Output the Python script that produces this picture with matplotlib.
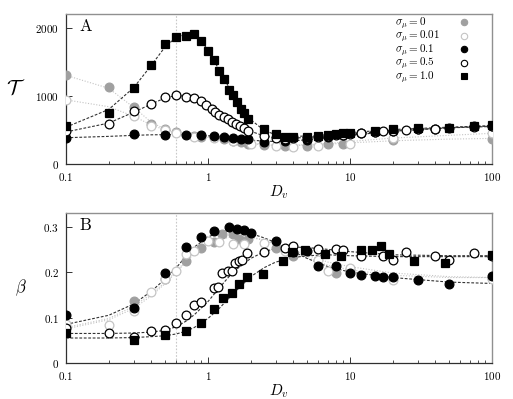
import matplotlib
matplotlib.use("Agg")
import matplotlib.pyplot as plt
from matplotlib.lines import Line2D
from matplotlib.ticker import FixedLocator, FixedFormatter, LogLocator, NullFormatter

plt.rcParams['mathtext.fontset'] = 'cm'
plt.rcParams['font.family'] = ['DejaVu Serif']

# ---------------- Panel A: T vs D_v ----------------
A_x_s0 = [0.1, 0.2, 0.3, 0.4, 0.5, 0.6, 0.8, 0.9, 1.1, 1.3, 1.5, 1.7, 1.9, 2.5, 3.5, 5, 7, 9, 20, 100]
A_y_s0 = [1310, 1130, 830, 590, 520, 470, 410, 400, 390, 360, 340, 320, 300, 280, 260, 270, 290, 300, 350, 370]

A_x_s001 = [0.1, 0.3, 0.4, 0.5, 0.6, 0.8, 1.1, 1.5, 2, 3, 4, 6, 10, 20, 100]
A_y_s001 = [940, 700, 550, 500, 460, 400, 380, 330, 290, 265, 255, 270, 300, 380, 450]

A_x_s01 = [0.1, 0.3, 0.5, 0.7, 0.9, 1.1, 1.3, 1.5, 1.7, 1.9, 2.5, 3.5, 5, 7, 9, 12, 15, 20, 30, 40, 75, 100]
A_y_s01 = [380, 440, 425, 425, 430, 412, 392, 378, 365, 360, 325, 330, 355, 390, 420, 460, 470, 490, 510, 520, 550, 560]

A_x_s05 = [0.1, 0.2, 0.3, 0.4, 0.5, 0.6, 0.7, 0.8, 0.9, 0.97, 1.06, 1.13, 1.2, 1.29, 1.38, 1.47, 1.57,
           1.68, 1.8, 1.92, 2.5, 3, 3.5, 4, 5, 6, 7, 8, 9, 10, 12, 15, 17, 20, 25, 30, 40, 50, 75, 100]
A_y_s05 = [490, 580, 770, 880, 980, 1010, 985, 970, 930, 860, 810, 760, 720, 690, 655, 620, 590,
           560, 525, 490, 410, 380, 370, 375, 385, 400, 410, 420, 430, 440, 460, 470, 480, 490, 500, 510, 520, 530, 545, 550]

A_x_s1 = [0.1, 0.2, 0.3, 0.4, 0.5, 0.6, 0.7, 0.8, 0.9, 1.0, 1.1, 1.2, 1.3, 1.4, 1.5, 1.6, 1.7, 1.8, 1.9,
          2.5, 3, 3.5, 4, 5, 6, 7, 8, 9, 10, 15, 20, 30, 50, 75, 100]
A_y_s1 = [555, 755, 1120, 1450, 1760, 1860, 1880, 1910, 1810, 1650, 1530, 1365, 1240, 1090, 1005, 910, 800, 750, 660,
          510, 440, 400, 400, 400, 415, 430, 440, 455, 460, 480, 515, 525, 535, 560, 565]

# fitted curves
A_fit_x = [0.1, 0.2, 0.3, 0.4, 0.5, 0.6, 0.7, 0.8, 0.9, 1.0, 1.2, 1.5, 2, 2.5, 3, 4, 5, 7, 10, 20, 50, 100]
A_fit_s1 = [540, 800, 1120, 1450, 1720, 1860, 1900, 1880, 1800, 1670, 1380, 1020, 650, 490, 430, 405, 410, 430, 460, 505, 540, 560]
A_fit_s05 = [470, 600, 760, 880, 970, 1005, 995, 965, 925, 880, 790, 640, 480, 410, 385, 380, 390, 415, 440, 490, 530, 550]
A_fit_s01 = [385, 405, 420, 428, 430, 430, 428, 425, 420, 415, 400, 378, 350, 335, 330, 340, 355, 385, 420, 480, 530, 560]
A_fit_s0 = [1300, 1110, 830, 610, 510, 465, 440, 420, 410, 400, 380, 350, 310, 285, 275, 270, 275, 290, 310, 340, 365, 375]
A_fit_s001 = [940, 840, 700, 570, 500, 460, 435, 415, 400, 390, 370, 340, 300, 280, 275, 275, 285, 300, 330, 380, 420, 450]

# ---------------- Panel B: beta vs D_v ----------------
B_x_s0 = [0.1, 0.3, 0.5, 0.7, 0.9, 1.1, 1.25, 1.5, 1.65, 1.9, 3, 4, 8, 10, 20, 100]
B_y_s0 = [0.08, 0.137, 0.185, 0.225, 0.253, 0.267, 0.284, 0.284, 0.272, 0.273, 0.254, 0.235, 0.198, 0.205, 0.19, 0.188]

B_x_s001 = [0.1, 0.2, 0.3, 0.4, 0.5, 0.6, 0.7, 0.8, 1.0, 1.2, 1.5, 1.8, 2.5, 3.5, 6, 7, 10, 20, 100]
B_y_s001 = [0.085, 0.083, 0.115, 0.157, 0.185, 0.202, 0.24, 0.247, 0.268, 0.267, 0.262, 0.262, 0.265, 0.247,
            0.226, 0.203, 0.21, 0.183, 0.185]

B_x_s01 = [0.1, 0.3, 0.5, 0.7, 0.9, 1.1, 1.4, 1.6, 1.8, 2, 3, 4, 5, 6, 8, 10, 12, 15, 17, 20, 30, 50, 100]
B_y_s01 = [0.106, 0.122, 0.198, 0.255, 0.277, 0.29, 0.3, 0.294, 0.293, 0.287, 0.268, 0.244, 0.247, 0.214, 0.213,
           0.199, 0.194, 0.192, 0.19, 0.189, 0.182, 0.174, 0.191]

B_x_s05 = [0.1, 0.2, 0.3, 0.4, 0.5, 0.6, 0.7, 0.8, 0.9, 1.1, 1.17, 1.25, 1.38, 1.47, 1.55, 1.65, 1.75, 1.87,
           2.5, 3.5, 4, 6, 8, 9, 12, 17, 20, 25, 40, 50, 75, 100]
B_y_s05 = [0.077, 0.066, 0.058, 0.071, 0.073, 0.088, 0.106, 0.128, 0.134, 0.166, 0.168, 0.199, 0.202, 0.202,
           0.219, 0.224, 0.226, 0.242, 0.244, 0.253, 0.257, 0.251, 0.251, 0.248, 0.235, 0.236, 0.227, 0.244,
           0.235, 0.227, 0.242, 0.235]

B_x_s1 = [0.1, 0.3, 0.5, 0.7, 0.9, 1.1, 1.27, 1.47, 1.66, 1.87, 2.45, 3.4, 3.9, 4.8, 6.7, 8.6, 12, 14.3, 16.6,
          19, 28.4, 47, 100]
B_y_s1 = [0.067, 0.051, 0.062, 0.071, 0.089, 0.119, 0.143, 0.154, 0.174, 0.189, 0.196, 0.225, 0.244, 0.248,
          0.240, 0.236, 0.249, 0.249, 0.257, 0.240, 0.225, 0.221, 0.238]

B_fit_x = [0.1, 0.2, 0.3, 0.4, 0.5, 0.6, 0.7, 0.8, 1.0, 1.2, 1.5, 2, 2.5, 3, 4, 5, 7, 10, 20, 50, 100]
B_fit_s01 = [0.085, 0.105, 0.13, 0.158, 0.185, 0.21, 0.235, 0.255, 0.277, 0.288, 0.292, 0.285, 0.275, 0.265,
             0.245, 0.23, 0.212, 0.2, 0.188, 0.178, 0.175]
B_fit_s0 = [0.078, 0.098, 0.125, 0.152, 0.178, 0.202, 0.225, 0.243, 0.265, 0.276, 0.281, 0.278, 0.27, 0.26,
            0.245, 0.232, 0.215, 0.205, 0.193, 0.188, 0.188]
B_fit_s001 = [0.075, 0.095, 0.12, 0.148, 0.175, 0.2, 0.222, 0.24, 0.262, 0.272, 0.278, 0.276, 0.27, 0.262,
              0.248, 0.237, 0.222, 0.212, 0.198, 0.19, 0.188]
B_fit_s05 = [0.065, 0.065, 0.066, 0.068, 0.072, 0.08, 0.092, 0.106, 0.135, 0.165, 0.2, 0.23, 0.245, 0.252,
             0.255, 0.254, 0.25, 0.245, 0.238, 0.236, 0.236]
B_fit_s1 = [0.055, 0.055, 0.056, 0.058, 0.06, 0.064, 0.07, 0.078, 0.098, 0.12, 0.152, 0.19, 0.21, 0.222,
            0.232, 0.236, 0.238, 0.236, 0.234, 0.234, 0.234]

labels = [r'$\sigma_\mu = 0$', r'$\sigma_\mu = 0.01$', r'$\sigma_\mu = 0.1$',
          r'$\sigma_\mu = 0.5$', r'$\sigma_\mu = 1.0$']
x_ticks = [0.1, 1, 10, 100]
x_tick_labels = ['0.1', '1', '10', '100']
A_yticks = [0, 1000, 2000]
B_yticks = [0, 0.1, 0.2, 0.3]
vline_x = 0.6

GRAY = '#a0a0a0'
LIGHT = '#c4c4c4'
BLACK = '#000000'
MS = 6.3

styles = [
    dict(marker='o', mfc=GRAY, mec=GRAY, lc=LIGHT, ls=(0, (1, 1.5))),      # 0
    dict(marker='o', mfc='white', mec=LIGHT, lc=LIGHT, ls=(0, (1, 1.5))),  # 0.01
    dict(marker='o', mfc=BLACK, mec=BLACK, lc='#333333', ls=(0, (2.5, 1.5))),  # 0.1
    dict(marker='o', mfc='white', mec=BLACK, lc='#333333', ls=(0, (2.5, 1.5))),  # 0.5
    dict(marker='s', mfc=BLACK, mec=BLACK, lc='#333333', ls=(0, (2.5, 1.5))),  # 1.0
]

fig = plt.figure(figsize=(5.13, 3.99), dpi=100)
axA = fig.add_axes([0.1287, 0.589, 0.830, 0.376])
axB = fig.add_axes([0.1287, 0.0902, 0.830, 0.376])

A_data = [(A_x_s0, A_y_s0), (A_x_s001, A_y_s001), (A_x_s01, A_y_s01), (A_x_s05, A_y_s05), (A_x_s1, A_y_s1)]
A_fits = [A_fit_s0, A_fit_s001, A_fit_s01, A_fit_s05, A_fit_s1]
B_data = [(B_x_s0, B_y_s0), (B_x_s001, B_y_s001), (B_x_s01, B_y_s01), (B_x_s05, B_y_s05), (B_x_s1, B_y_s1)]
B_fits = [B_fit_s0, B_fit_s001, B_fit_s01, B_fit_s05, B_fit_s1]


def style_axes(ax, yticks, ylim, ylabels):
    ax.set_xscale('log')
    ax.set_xlim(0.1, 100)
    ax.set_ylim(*ylim)
    ax.axvline(vline_x, color='#c8c8c8', lw=0.8, ls=(0, (1.5, 1.5)), zorder=0)
    ax.xaxis.set_major_locator(FixedLocator(x_ticks))
    ax.xaxis.set_major_formatter(FixedFormatter([r'$\mathrm{%s}$' % t for t in x_tick_labels]))
    ax.xaxis.set_minor_locator(LogLocator(base=10, subs=range(2, 10)))
    ax.xaxis.set_minor_formatter(NullFormatter())
    ax.yaxis.set_major_locator(FixedLocator(yticks))
    ax.yaxis.set_major_formatter(FixedFormatter([r'$\mathrm{%s}$' % t for t in ylabels]))
    ax.tick_params(which='both', direction='in', labelsize=8, top=False, right=False,
                   color='#333333', pad=5)
    ax.tick_params(which='major', length=4, width=0.7)
    ax.tick_params(which='minor', length=2.5, width=0.6)
    for s in ['top', 'right']:
        ax.spines[s].set_color('#909090')
        ax.spines[s].set_linewidth(1.0)
    for s in ['left', 'bottom']:
        ax.spines[s].set_color('#303030')
        ax.spines[s].set_linewidth(0.9)
    ax.set_xlabel(r'$D_v$', fontsize=11, labelpad=0)


for ax, data, fits, fx in [(axA, A_data, A_fits, A_fit_x), (axB, B_data, B_fits, B_fit_x)]:
    for (x, y), fy, st in zip(data, fits, styles):
        ax.plot(fx, fy, color=st['lc'], ls=st['ls'], lw=0.8, zorder=1)
    for (x, y), st in zip(data, styles):
        ax.plot(x, y, ls='none', marker=st['marker'], ms=MS, mfc=st['mfc'], mec=st['mec'],
                mew=0.9, zorder=3)

style_axes(axA, A_yticks, (0, 2200), ['0', '1000', '2000'])
style_axes(axB, B_yticks, (0, 0.33), ['0', '0.1', '0.2', '0.3'])

axA.set_ylabel(r'$\mathcal{T}$', fontsize=15, rotation=0, labelpad=14, va='center')
axB.set_ylabel(r'$\beta$', fontsize=12, rotation=0, labelpad=16, va='center')

axA.text(0.03, 0.97, r'$\mathrm{A}$', transform=axA.transAxes, fontsize=12, va='top', ha='left')
axB.text(0.03, 0.97, r'$\mathrm{B}$', transform=axB.transAxes, fontsize=12, va='top', ha='left')

# legend: left-aligned labels, markers in a column on the right
LEG_MS = 4.6
handles = [Line2D([], [], ls='none', marker=st['marker'], ms=LEG_MS, mfc=st['mfc'], mec=st['mec'], mew=0.8)
           for st in styles]
leg = axA.legend(handles, labels, loc='upper left', bbox_to_anchor=(0.772, 0.99),
                 markerfirst=False, frameon=False, fontsize=8, labelspacing=-0.27,
                 borderaxespad=0, borderpad=0, handlelength=1.0, handletextpad=0)
ROW_W = 75  # pixels
for col in leg._legend_handle_box.get_children():
    col.align = 'left'
    for row in col.get_children():
        row.mode = 'expand'
        row.width = ROW_W

fig.savefig('out.png', dpi=100)
